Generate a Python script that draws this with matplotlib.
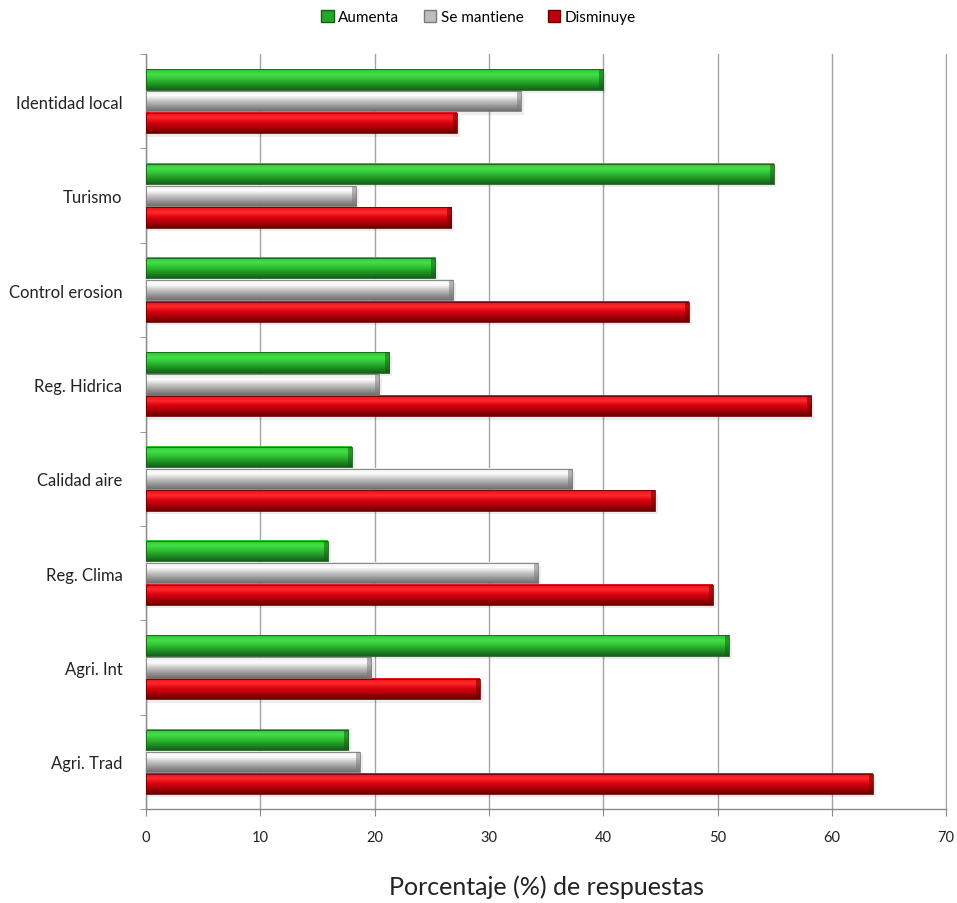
import numpy as np
import matplotlib
matplotlib.use("Agg")
import matplotlib.pyplot as plt
from matplotlib.colors import LinearSegmentedColormap
from matplotlib.patches import Patch

plt.rcParams['font.family'] = ['Lato', 'DejaVu Sans']

# === Data: share of responses per service ===
categories = ["Identidad local", "Turismo", "Control erosion", "Reg. Hidrica",
              "Calidad aire", "Reg. Clima", "Agri. Int", "Agri. Trad"]
aumenta = [40.0, 54.9, 25.3, 21.3, 18.0, 15.9, 51.0, 17.7]
se_mantiene = [32.8, 18.4, 26.9, 20.4, 37.3, 34.3, 19.7, 18.7]
disminuye = [27.2, 26.7, 47.5, 58.2, 44.5, 49.6, 29.2, 63.6]
series_names = ["Aumenta", "Se mantiene", "Disminuye"]
x_ticks = [0, 10, 20, 30, 40, 50, 60, 70]

# Vertical shading per series: bottom -> top
shades = {
    "Aumenta": ["#14601a", "#1f8f22", "#2fbf33", "#44e048", "#2cc431"],
    "Se mantiene": ["#6f6f6f", "#9a9a9a", "#c9c9c9", "#ffffff", "#e6e6e6"],
    "Disminuye": ["#6a0000", "#a50008", "#d80010", "#ff2a2a", "#e8101c"],
}
legend_colors = {"Aumenta": "#23a827", "Se mantiene": "#bdbdbd", "Disminuye": "#c00010"}
edge_colors = {"Aumenta": "#165c18", "Se mantiene": "#7a7a7a", "Disminuye": "#6a0000"}

fig = plt.figure(figsize=(9.57, 9.04), dpi=100)
ax = fig.add_axes([0.1526, 0.104, 0.836, 0.835])

n = len(categories)
centers = np.arange(n)[::-1].astype(float)
bar_h = 0.215
offsets = [0.232, 0.0, -0.232]
grad = np.linspace(0, 1, 64).reshape(-1, 1)

for values, name, off in zip([aumenta, se_mantiene, disminuye], series_names, offsets):
    cmap = LinearSegmentedColormap.from_list(name, shades[name])
    for yc, v in zip(centers, values):
        y0 = yc + off - bar_h / 2
        # soft drop shadow below each bar
        ax.barh(yc + off - 0.035, v + 0.25, height=bar_h, left=0, color="#000000",
                alpha=0.07, linewidth=0, zorder=2)
        ax.imshow(grad, cmap=cmap, aspect="auto", origin="lower",
                  extent=(0, v, y0, y0 + bar_h), zorder=3, interpolation="bilinear")
        ax.barh(yc + off, v, height=bar_h, left=0, facecolor="none",
                edgecolor=edge_colors[name], linewidth=0.6, zorder=4)
        # darker bevel at the bar end
        ax.barh(yc + off, 0.35, height=bar_h, left=v - 0.35, color=edge_colors[name],
                alpha=0.55, linewidth=0, zorder=4)

ax.set_xlim(0, 70)
ax.set_ylim(-0.5, n - 0.5)
ax.set_xticks(x_ticks)
ax.set_xticklabels([str(t) for t in x_ticks], fontsize=10.5, color="#222222")
ax.set_yticks(centers)
ax.set_yticklabels(categories, fontsize=12, color="#222222")
ax.set_yticks(np.arange(n + 1) - 0.5, minor=True)
ax.tick_params(axis="y", which="major", length=0, pad=17)
ax.tick_params(axis="y", which="minor", length=4, color="#888888")
ax.tick_params(axis="x", length=5, color="#888888", pad=10)

ax.grid(axis="x", color="#a4a4a4", linewidth=1.0, zorder=0)
ax.set_axisbelow(True)
ax.spines["top"].set_visible(False)
ax.spines["right"].set_color("#a4a4a4")
for side in ["left", "bottom"]:
    ax.spines[side].set_color("#8a8a8a")
    ax.spines[side].set_linewidth(1.0)

ax.set_xlabel("Porcentaje (%) de respuestas", fontsize=18, color="#222222", labelpad=22)

handles = [Patch(facecolor=legend_colors[s], edgecolor=edge_colors[s], label=s) for s in series_names]
fig.legend(handles=handles, loc="upper center", bbox_to_anchor=(0.5, 1.003), ncol=3,
           frameon=False, fontsize=11, handlelength=0.8, handleheight=0.8,
           handletextpad=0.3, columnspacing=1.6)

fig.savefig("out.png", dpi=100)
